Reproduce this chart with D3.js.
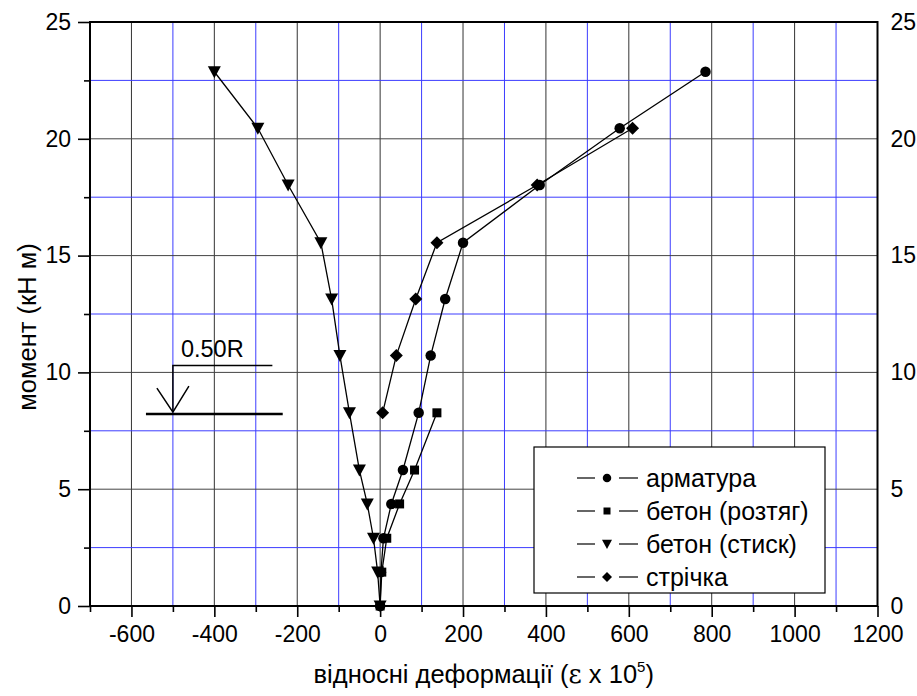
<!DOCTYPE html>
<html>
<head>
<meta charset="utf-8">
<script src="https://cdn.jsdelivr.net/npm/d3@7"></script>
<style>
	body { margin: 0; background: #fff; }
	svg text { font-family: Arial, "Liberation Sans", sans-serif; fill: #000; }
</style>
</head>
<body>
<div id="graph"></div>
<script>
let width = 917;
let height = 696;

let padding = {
	top: 22,
	right: 40,
	bottom: 90,
	left: 90
	};

// Load levels (moment, kN m)
let loads = [0, 1.45, 2.9, 4.37, 5.82, 8.27, 10.72, 13.14, 15.55, 18.02, 20.45, 22.87];

// Strains (eps x 10^5) for each series
let armatura = [0, 2, 8, 27, 55, 93, 122, 157, 200, 385, 578, 785];
let betonRozt = [0, 4, 16, 47, 83, 137];
let betonStysk = [0, -6, -16, -31, -50, -74, -97, -117, -143, -222, -295, -400];
let strichka = [6, 39, 86, 137, 379, 609];
let strichkaLoads = [8.27, 10.72, 13.14, 15.55, 18.02, 20.45];

let xTicks = [-600, -400, -200, 0, 200, 400, 600, 800, 1000, 1200];
let yTicks = [0, 5, 10, 15, 20, 25];

let seriesNames = ["арматура", "бетон (розтяг)", "бетон (стиск)", "стрічка"];
let seriesSymbols = ["circle", "square", "triDown", "diamond"];

let series = [
	{ name: seriesNames[0], sym: seriesSymbols[0], pts: armatura.map((v, i) => [v, loads[i]]) },
	{ name: seriesNames[1], sym: seriesSymbols[1], pts: betonRozt.map((v, i) => [v, loads[i]]) },
	{ name: seriesNames[2], sym: seriesSymbols[2], pts: betonStysk.map((v, i) => [v, loads[i]]) },
	{ name: seriesNames[3], sym: seriesSymbols[3], pts: strichka.map((v, i) => [v, strichkaLoads[i]]) }
	];

// Annotation "0.50R" marker (data units)
let markX = -500, markY = 8.3;

let plotW = width - padding.left - padding.right;
let plotH = height - padding.top - padding.bottom;

let svg = d3.select("#graph")
	.append("svg")
		.attr("width", width)
		.attr("height", height)
	;

let xScale = d3.scaleLinear()
	.domain([-700, 1200])
	.range([padding.left, padding.left + plotW + 0.5]);
let yScale = d3.scaleLinear()
	.domain([0, 25])
	.range([padding.top + plotH, padding.top]);

// grid: major dark, minor blue
let grid = svg.append("g").attr("id", "grid");
d3.range(-600, 1200, 100).forEach(v => {
	let minor = (Math.abs(v) % 200) !== 0;
	grid.append("line")
		.attr("x1", xScale(v)).attr("x2", xScale(v))
		.attr("y1", yScale(0)).attr("y2", yScale(25))
		.attr("stroke", minor ? "#3c3cff" : "#333")
		.attr("stroke-width", 1);
	});
d3.range(2.5, 25, 2.5).forEach(v => {
	let minor = (v % 5) !== 0;
	grid.append("line")
		.attr("x1", xScale(-700)).attr("x2", xScale(1200))
		.attr("y1", yScale(v)).attr("y2", yScale(v))
		.attr("stroke", minor ? "#3c3cff" : "#444")
		.attr("stroke-width", 1);
	});

// axes
let fmt = d => String(d).replace("\u2212", "-");
let xAxis = d3.axisBottom(xScale)
	.tickValues(xTicks)
	.tickSize(11)
	.tickPadding(9)
	.tickFormat(fmt);
let xAxisMinor = d3.axisBottom(xScale)
	.tickValues(d3.range(-700, 1200, 200))
	.tickSize(6)
	.tickFormat("");
let yAxis = d3.axisLeft(yScale)
	.tickValues(yTicks)
	.tickSize(12)
	.tickPadding(7);
let yAxisMinor = d3.axisLeft(yScale)
	.tickValues(d3.range(2.5, 25, 5))
	.tickSize(6)
	.tickFormat("");
let yAxisRight = d3.axisRight(yScale)
	.tickValues(yTicks)
	.tickSize(0)
	.tickPadding(13);

function styleAxis(g) {
	g.select(".domain").remove();
	g.selectAll("line").attr("stroke", "#000").attr("stroke-width", 1.6);
	g.selectAll("text")
		.style("font-size", "23px")
		.style("font-family", "Arial, 'Liberation Sans', sans-serif");
	}

svg.append("g")
	.attr("transform", `translate(0, ${yScale(0)})`)
	.call(xAxis).call(styleAxis);
svg.append("g")
	.attr("transform", `translate(0, ${yScale(0)})`)
	.call(xAxisMinor).call(styleAxis);
svg.append("g")
	.attr("transform", `translate(${xScale(-700)}, 0)`)
	.call(yAxis).call(styleAxis);
svg.append("g")
	.attr("transform", `translate(${xScale(-700)}, 0)`)
	.call(yAxisMinor).call(styleAxis);
svg.append("g")
	.attr("transform", `translate(${xScale(1200)}, 0)`)
	.call(yAxisRight).call(styleAxis);

// frame
svg.append("rect")
	.attr("x", xScale(-700))
	.attr("y", yScale(25))
	.attr("width", xScale(1200) - xScale(-700))
	.attr("height", yScale(0) - yScale(25))
	.attr("fill", "none")
	.attr("stroke", "#000")
	.attr("stroke-width", 2);

// symbols, s = overall size in px
function symbolPath(sym, s) {
	let h = s / 2;
	if (sym === "triDown")
		return `M${-h},${-h * 0.85}L${h},${-h * 0.85}L0,${h}Z`;
	if (sym === "diamond")
		return `M0,${-h}L${h},0L0,${h}L${-h},0Z`;
	if (sym === "square")
		return `M${-h},${-h}H${h}V${h}H${-h}Z`;
	return d3.symbol().type(d3.symbolCircle).size(Math.PI * h * h)();
	}
let markSize = { circle: 10.5, square: 9, triDown: 13, diamond: 13 };
let legendSize = { circle: 8.5, square: 7, triDown: 10, diamond: 10 };

let line = d3.line()
	.x(d => xScale(d[0]))
	.y(d => yScale(d[1]));

series.forEach(s => {
	svg.append("path")
		.datum(s.pts)
		.attr("d", line)
		.attr("fill", "none")
		.attr("stroke", "#000")
		.attr("stroke-width", 1.3);
	});
series.forEach(s => {
	svg.append("g")
		.selectAll("path")
		.data(s.pts)
		.enter()
		.append("path")
			.attr("transform", d => `translate(${xScale(d[0])}, ${yScale(d[1])})`)
			.attr("d", symbolPath(s.sym, markSize[s.sym]))
			.attr("fill", "#000");
	});

// annotation 0.50R
let ax = xScale(markX), ay = yScale(markY);
let ann = svg.append("g").attr("id", "annotation");
ann.append("line")
	.attr("x1", xScale(-565)).attr("x2", xScale(-235))
	.attr("y1", ay + 2).attr("y2", ay + 2)
	.attr("stroke", "#000").attr("stroke-width", 2.5);
ann.append("polyline")
	.attr("points", `${ax},${ay} ${ax},${yScale(10.3)} ${xScale(-260)},${yScale(10.3)}`)
	.attr("fill", "none").attr("stroke", "#000").attr("stroke-width", 1.5);
ann.append("polyline")
	.attr("points", `${ax - 16},${ay - 24} ${ax},${ay} ${ax + 16},${ay - 26}`)
	.attr("fill", "none").attr("stroke", "#000").attr("stroke-width", 1.5);
ann.append("text")
	.attr("x", ax + 8)
	.attr("y", yScale(10.3) - 8)
	.style("font-size", "23.5px")
	.text("0.50R");

// legend
let legend = svg.append("g").attr("id", "legend");
legend.append("rect")
	.attr("x", 534).attr("y", 447)
	.attr("width", 291).attr("height", 146)
	.attr("fill", "#fff")
	.attr("stroke", "#000")
	.attr("stroke-width", 1.2);
series.forEach((s, i) => {
	let cy = 478 + i * 33;
	let g = legend.append("g");
	g.append("line").attr("x1", 577).attr("x2", 595).attr("y1", cy).attr("y2", cy)
		.attr("stroke", "#000").attr("stroke-width", 1.2);
	g.append("line").attr("x1", 619).attr("x2", 638).attr("y1", cy).attr("y2", cy)
		.attr("stroke", "#000").attr("stroke-width", 1.2);
	g.append("path")
		.attr("transform", `translate(607, ${cy})`)
		.attr("d", symbolPath(s.sym, legendSize[s.sym]))
		.attr("fill", "#000");
	g.append("text")
		.attr("x", 646)
		.attr("y", cy)
		.attr("dy", "0.35em")
		.style("font-size", "25px")
		.text(s.name);
	});

// axis titles
svg.append("text")
	.attr("transform", `translate(36, 327) rotate(-90)`)
	.attr("text-anchor", "middle")
	.style("font-size", "25.5px")
	.text("момент (кН м)");

let xTitle = svg.append("text")
	.attr("x", (xScale(-700) + xScale(1200)) / 2)
	.attr("y", 683)
	.attr("text-anchor", "middle")
	.style("font-size", "25.5px");
xTitle.append("tspan").text("відносні деформації (");
xTitle.append("tspan").style("font-family", "'DejaVu Serif', serif").text("ε");
xTitle.append("tspan").text(" x 10");
xTitle.append("tspan").attr("dy", "-11").style("font-size", "15px").text("5");
xTitle.append("tspan").attr("dy", "11").text(")");
</script>
</body>
</html>
